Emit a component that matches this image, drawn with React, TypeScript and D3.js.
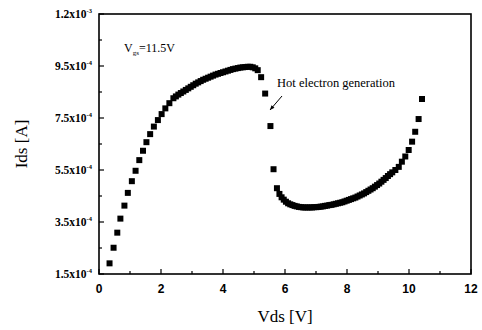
import * as d3 from "d3";
import React, { useRef, useEffect } from "react";

const W = 482;
const H = 330;
const margin = { top: 14, right: 11, bottom: 56, left: 99 };

// Vds [V]
const vds = [
  0.34, 0.47, 0.59, 0.69, 0.82, 0.93, 1.06, 1.18, 1.3, 1.42, 1.53, 1.65, 1.77,
  1.9, 2.02, 2.14, 2.27, 2.4, 2.48, 2.56, 2.64, 2.72, 2.8, 2.88, 2.96, 3.04,
  3.12, 3.2, 3.28, 3.36, 3.44, 3.52, 3.6, 3.68, 3.76, 3.84, 3.92, 4.0, 4.08,
  4.16, 4.24, 4.32, 4.4, 4.48, 4.56, 4.64, 4.72, 4.8, 4.88, 4.96, 5.04, 5.12,
  5.23, 5.36, 5.53, 5.63, 5.74, 5.82, 5.89, 5.96, 6.03, 6.1, 6.17, 6.24, 6.31,
  6.38, 6.45, 6.52, 6.59, 6.66, 6.73, 6.8, 6.87, 6.94, 7.01, 7.08, 7.15, 7.22,
  7.29, 7.36, 7.43, 7.5, 7.57, 7.64, 7.71, 7.78, 7.85, 7.92, 7.99, 8.06, 8.13,
  8.2, 8.27, 8.34, 8.41, 8.48, 8.55, 8.62, 8.69, 8.76, 8.83, 8.9, 8.97, 9.04,
  9.11, 9.18, 9.25, 9.32, 9.39, 9.46, 9.56, 9.67, 9.77, 9.88, 9.99, 10.1, 10.2,
  10.31, 10.42,
];
// Ids in units of 1e-4 A
const ids = [
  1.91, 2.51, 3.09, 3.63, 4.13, 4.62, 5.07, 5.47, 5.88, 6.24, 6.57, 6.88, 7.17,
  7.42, 7.65, 7.87, 8.07, 8.26, 8.33, 8.4, 8.46, 8.52, 8.58, 8.64, 8.7, 8.76,
  8.82, 8.87, 8.92, 8.97, 9.01, 9.05, 9.09, 9.13, 9.17, 9.2, 9.23, 9.26, 9.29,
  9.32, 9.35, 9.38, 9.4, 9.42, 9.44, 9.45, 9.46, 9.47, 9.47, 9.45, 9.41, 9.34,
  9.07, 8.44, 7.19, 5.53, 4.8, 4.58, 4.45, 4.36, 4.28, 4.22, 4.18, 4.15, 4.12,
  4.1, 4.08, 4.07, 4.06, 4.06, 4.06, 4.06, 4.06, 4.07, 4.07, 4.08, 4.09, 4.1,
  4.12, 4.13, 4.15, 4.16, 4.18, 4.2, 4.22, 4.24, 4.26, 4.29, 4.32, 4.35, 4.38,
  4.41, 4.44, 4.48, 4.52, 4.56, 4.6, 4.65, 4.7, 4.75, 4.8, 4.86, 4.92, 4.98,
  5.05, 5.12, 5.19, 5.27, 5.34, 5.41, 5.5, 5.62, 5.82, 6.02, 6.27, 6.59, 6.97,
  7.46, 8.23,
];

const xTicks = [0, 2, 4, 6, 8, 10, 12];
const yTicks = [1.5e-4, 3.5e-4, 5.5e-4, 7.5e-4, 9.5e-4, 11.5e-4];
const yTickMant = ["1.5", "3.5", "5.5", "7.5", "9.5", "1.2"];
const yTickExp = ["-4", "-4", "-4", "-4", "-4", "-3"];

const serif = "'Liberation Serif', 'DejaVu Serif', serif";
const sans = "'Liberation Sans', Arial, sans-serif";

export default function App() {
  const ref = useRef<SVGSVGElement>(null);

  useEffect(() => {
    const svg = d3.select(ref.current);
    svg.selectAll("*").remove();

    const x = d3.scaleLinear().domain([0, 12]).range([margin.left, W - margin.right]);
    const y = d3.scaleLinear().domain([1.5e-4, 11.5e-4]).range([H - margin.bottom, margin.top]);
    const [x0, x1] = x.range();
    const [y0, y1] = y.range();

    // frame
    svg
      .append("rect")
      .attr("x", x0)
      .attr("y", y1)
      .attr("width", x1 - x0)
      .attr("height", y0 - y1)
      .attr("fill", "none")
      .attr("stroke", "#000")
      .attr("stroke-width", 1.6);

    // x ticks (inward), minor on odd numbers
    const xg = svg.append("g");
    d3.range(0, 13).forEach((v) => {
      const len = v % 2 === 0 ? 5 : 3;
      xg.append("line")
        .attr("x1", x(v)).attr("x2", x(v))
        .attr("y1", y0).attr("y2", y0 - len)
        .attr("stroke", "#000").attr("stroke-width", 1.2);
    });
    xg.selectAll("text")
      .data(xTicks)
      .join("text")
      .attr("x", (d) => x(d))
      .attr("y", y0 + 19)
      .attr("text-anchor", "middle")
      .attr("font-family", sans)
      .attr("font-weight", "bold")
      .attr("font-size", 12)
      .attr("fill", "#000")
      .text((d) => d);

    // y ticks (inward), minor in between
    const yg = svg.append("g");
    d3.range(1.5e-4, 11.6e-4, 1e-4).forEach((v, i) => {
      const len = i % 2 === 0 ? 5 : 3;
      yg.append("line")
        .attr("x1", x0).attr("x2", x0 + len)
        .attr("y1", y(v)).attr("y2", y(v))
        .attr("stroke", "#000").attr("stroke-width", 1.2);
    });
    const yl = yg
      .selectAll("text")
      .data(yTicks)
      .join("text")
      .attr("x", x0 - 7)
      .attr("y", (d) => y(d) + 4)
      .attr("text-anchor", "end")
      .attr("font-family", serif)
      .attr("font-size", 11.5)
      .attr("font-weight", "bold");
    yl.append("tspan").text((_, i) => yTickMant[i] + "x10");
    yl.append("tspan")
      .attr("dy", -5)
      .attr("font-size", 6.5)
      .text((_, i) => yTickExp[i]);

    // data points
    const pts = vds.map((v, i) => ({ v, a: ids[i] * 1e-4 }));
    svg
      .append("g")
      .selectAll("path")
      .data(pts)
      .join("path")
      .attr("transform", (d) => `translate(${x(d.v)},${y(d.a)})`)
      .attr("d", d3.symbol(d3.symbolSquare, 36)())
      .attr("fill", "#000");

    // axis titles
    svg
      .append("text")
      .attr("x", (x0 + x1) / 2)
      .attr("y", H - 8)
      .attr("text-anchor", "middle")
      .attr("font-family", serif)
      .attr("font-size", 17)
      .text("Vds [V]");
    svg
      .append("text")
      .attr("transform", `translate(27,${(y0 + y1) / 2}) rotate(-90)`)
      .attr("text-anchor", "middle")
      .attr("font-family", serif)
      .attr("font-size", 17)
      .text("Ids [A]");

    // annotations
    const vg = svg
      .append("text")
      .attr("x", 124)
      .attr("y", 52)
      .attr("font-family", serif)
      .attr("font-size", 12);
    vg.append("tspan").text("V");
    vg.append("tspan").attr("dy", 3).attr("font-size", 7).text("gs");
    vg.append("tspan").attr("dy", -3).text("=11.5V");

    svg
      .append("text")
      .attr("x", 277)
      .attr("y", 87)
      .attr("font-family", serif)
      .attr("font-size", 12.5)
      .text("Hot electron generation");

    // arrow
    const ax1 = 282, ay1 = 96, ax2 = 270, ay2 = 110;
    svg
      .append("line")
      .attr("x1", ax1).attr("y1", ay1)
      .attr("x2", ax2).attr("y2", ay2)
      .attr("stroke", "#000").attr("stroke-width", 1);
    const ang = Math.atan2(ay2 - ay1, ax2 - ax1);
    const hl = 5;
    const p1 = [ax2 - hl * Math.cos(ang - 0.4), ay2 - hl * Math.sin(ang - 0.4)];
    const p2 = [ax2 - hl * Math.cos(ang + 0.4), ay2 - hl * Math.sin(ang + 0.4)];
    svg
      .append("path")
      .attr("d", `M${ax2},${ay2}L${p1[0]},${p1[1]}L${p2[0]},${p2[1]}Z`)
      .attr("fill", "#000");
  }, []);

  return (
    <div style={{ position: "absolute", left: 0, top: 0 }}>
      <svg ref={ref} width={W} height={H} style={{ display: "block", background: "#fff" }} />
    </div>
  );
}
